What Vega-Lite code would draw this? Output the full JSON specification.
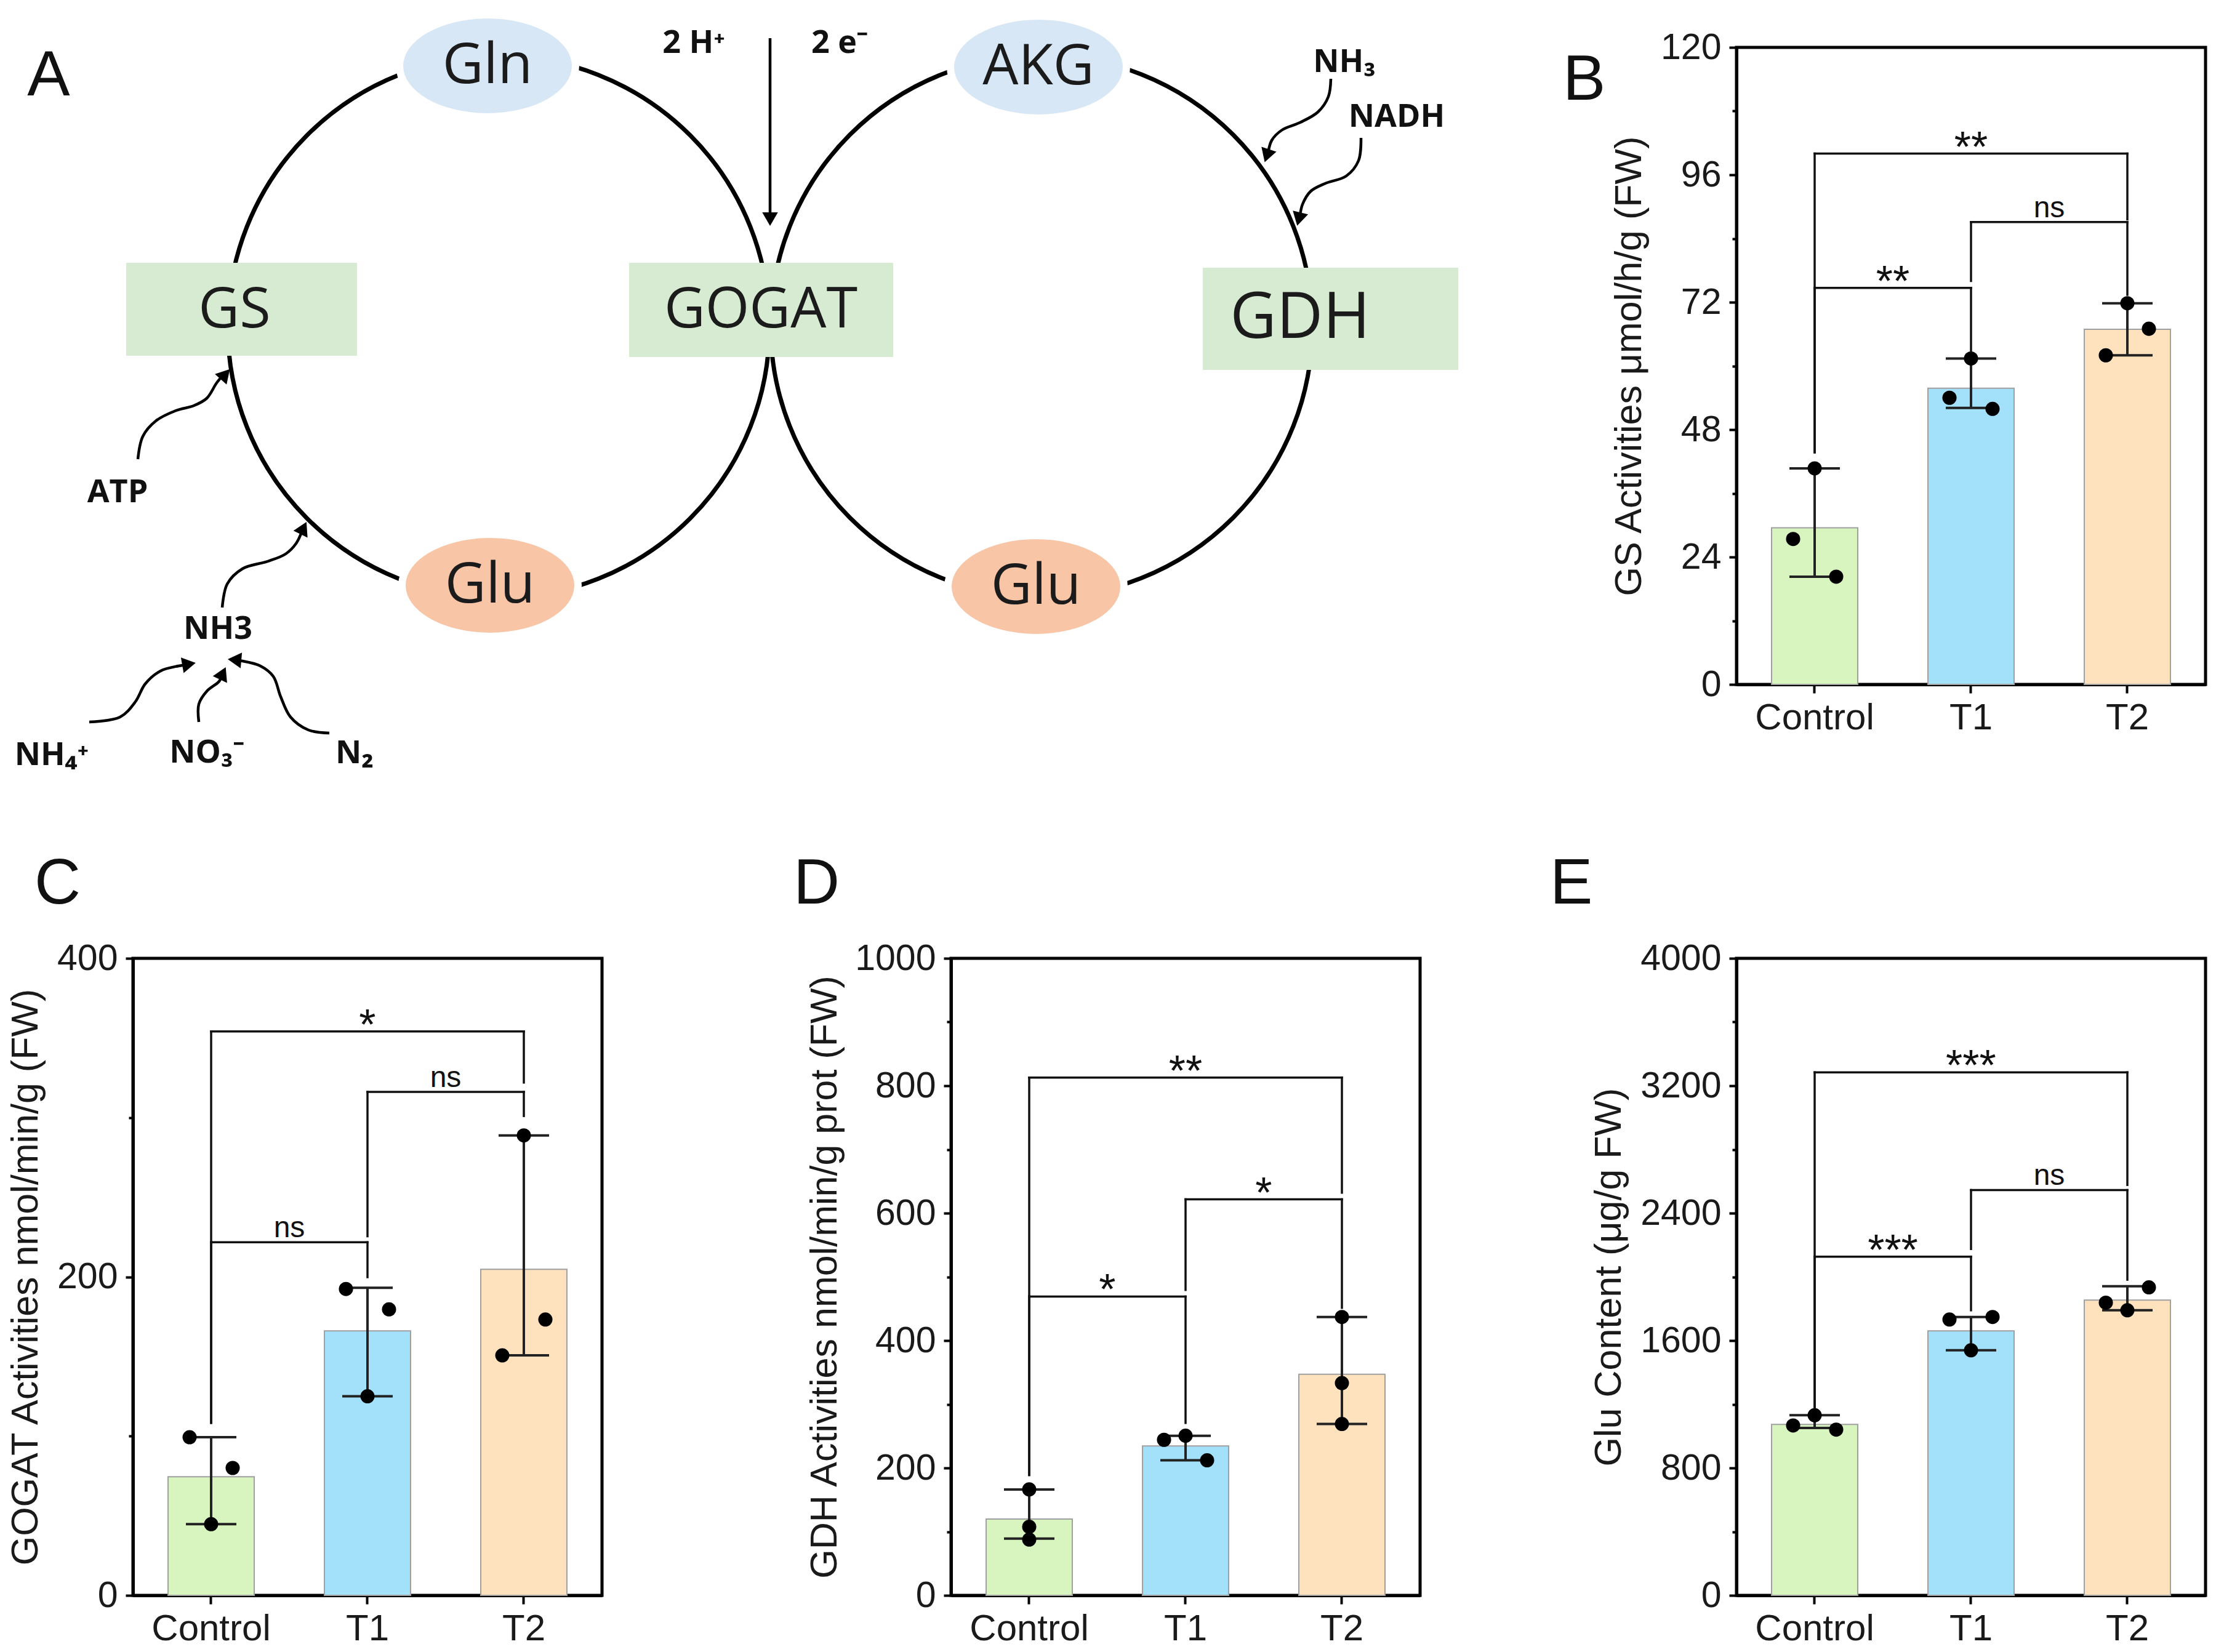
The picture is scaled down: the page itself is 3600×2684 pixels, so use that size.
{
  "$schema": "https://vega.github.io/schema/vega-lite/v6.json",
  "background": "white",
  "padding": {"left": 9, "top": 0, "right": 10, "bottom": 10},
  "datasets": {
    "bars": [
      {"panel": "B", "group": "Control", "mean": 29.5, "lo": 20.3, "hi": 40.7},
      {"panel": "B", "group": "T1", "mean": 55.8, "lo": 52.1, "hi": 61.4},
      {"panel": "B", "group": "T2", "mean": 66.9, "lo": 62.0, "hi": 71.8},
      {"panel": "C", "group": "Control", "mean": 74.5, "lo": 44.7, "hi": 99.3},
      {"panel": "C", "group": "T1", "mean": 166.1, "lo": 125.0, "hi": 193.1},
      {"panel": "C", "group": "T2", "mean": 204.7, "lo": 150.7, "hi": 288.8},
      {"panel": "D", "group": "Control", "mean": 119.7, "lo": 89.2, "hi": 166.3},
      {"panel": "D", "group": "T1", "mean": 234.5, "lo": 212.0, "hi": 250.6},
      {"panel": "D", "group": "T2", "mean": 347.0, "lo": 269.0, "hi": 437.0},
      {"panel": "E", "group": "Control", "mean": 1073, "lo": 1051, "hi": 1131},
      {"panel": "E", "group": "T1", "mean": 1661, "lo": 1539, "hi": 1748},
      {"panel": "E", "group": "T2", "mean": 1854, "lo": 1790, "hi": 1941}
    ],
    "pts": [
      {"panel": "B", "group": "Control", "pos": "C", "value": 40.7},
      {"panel": "B", "group": "Control", "pos": "L", "value": 27.4},
      {"panel": "B", "group": "Control", "pos": "R", "value": 20.3},
      {"panel": "B", "group": "T1", "pos": "C", "value": 61.4},
      {"panel": "B", "group": "T1", "pos": "L", "value": 54.0},
      {"panel": "B", "group": "T1", "pos": "R", "value": 51.9},
      {"panel": "B", "group": "T2", "pos": "C", "value": 71.8},
      {"panel": "B", "group": "T2", "pos": "R", "value": 67.0},
      {"panel": "B", "group": "T2", "pos": "L", "value": 62.0},
      {"panel": "C", "group": "Control", "pos": "L", "value": 99.3},
      {"panel": "C", "group": "Control", "pos": "R", "value": 80.0},
      {"panel": "C", "group": "Control", "pos": "C", "value": 44.7},
      {"panel": "C", "group": "T1", "pos": "L", "value": 192.4},
      {"panel": "C", "group": "T1", "pos": "R", "value": 179.6},
      {"panel": "C", "group": "T1", "pos": "C", "value": 125.0},
      {"panel": "C", "group": "T2", "pos": "C", "value": 288.8},
      {"panel": "C", "group": "T2", "pos": "R", "value": 173.2},
      {"panel": "C", "group": "T2", "pos": "L", "value": 150.7},
      {"panel": "D", "group": "Control", "pos": "C", "value": 166.3},
      {"panel": "D", "group": "Control", "pos": "C", "value": 107.6},
      {"panel": "D", "group": "Control", "pos": "C", "value": 87.6},
      {"panel": "D", "group": "T1", "pos": "L", "value": 244.2},
      {"panel": "D", "group": "T1", "pos": "C", "value": 250.6},
      {"panel": "D", "group": "T1", "pos": "R", "value": 212.0},
      {"panel": "D", "group": "T2", "pos": "C", "value": 437.0},
      {"panel": "D", "group": "T2", "pos": "C", "value": 333.3},
      {"panel": "D", "group": "T2", "pos": "C", "value": 269.0},
      {"panel": "E", "group": "Control", "pos": "C", "value": 1131},
      {"panel": "E", "group": "Control", "pos": "L", "value": 1067},
      {"panel": "E", "group": "Control", "pos": "R", "value": 1041},
      {"panel": "E", "group": "T1", "pos": "L", "value": 1732},
      {"panel": "E", "group": "T1", "pos": "R", "value": 1748},
      {"panel": "E", "group": "T1", "pos": "C", "value": 1539},
      {"panel": "E", "group": "T2", "pos": "R", "value": 1934},
      {"panel": "E", "group": "T2", "pos": "L", "value": 1838},
      {"panel": "E", "group": "T2", "pos": "C", "value": 1790}
    ],
    "brk": [
      {"panel": "B", "g1": "Control", "g2": "T2", "h": 100.0, "lo1": 43.7, "lo2": 87.6, "label": "**"},
      {"panel": "B", "g1": "T1", "g2": "T2", "h": 87.1, "lo1": 76.0, "lo2": 73.4, "label": "ns"},
      {"panel": "B", "g1": "Control", "g2": "T1", "h": 74.7, "lo1": 43.7, "lo2": 62.7, "label": "**"},
      {"panel": "C", "g1": "Control", "g2": "T2", "h": 354.1, "lo1": 108.3, "lo2": 322.0, "label": "*"},
      {"panel": "C", "g1": "T1", "g2": "T2", "h": 316.1, "lo1": 225.5, "lo2": 301.0, "label": "ns"},
      {"panel": "C", "g1": "Control", "g2": "T1", "h": 221.7, "lo1": 108.3, "lo2": 199.8, "label": "ns"},
      {"panel": "D", "g1": "Control", "g2": "T2", "h": 812.9, "lo1": 188.8, "lo2": 632.1, "label": "**"},
      {"panel": "D", "g1": "T1", "g2": "T2", "h": 621.7, "lo1": 479.5, "lo2": 451.4, "label": "*"},
      {"panel": "D", "g1": "Control", "g2": "T1", "h": 469.1, "lo1": 188.8, "lo2": 270.7, "label": "*"},
      {"panel": "E", "g1": "Control", "g2": "T2", "h": 3284, "lo1": 1179, "lo2": 2577, "label": "***"},
      {"panel": "E", "g1": "T1", "g2": "T2", "h": 2545, "lo1": 2175, "lo2": 1982, "label": "ns"},
      {"panel": "E", "g1": "Control", "g2": "T1", "h": 2127, "lo1": 1179, "lo2": 1790, "label": "***"}
    ],
    "rings": [{"x": 806, "y": 527}, {"x": 1688, "y": 526}],
    "enz": [
      {"name": "GS", "x": 201, "x2": 576, "y": 423, "y2": 574},
      {"name": "GOGAT", "x": 1018, "x2": 1447, "y": 423, "y2": 576},
      {"name": "GDH", "x": 1950, "x2": 2365, "y": 431, "y2": 597}
    ],
    "enzlab": [
      {"label": "GS", "x": 377, "y": 500},
      {"label": "GOGAT", "x": 1232, "y": 500},
      {"label": "GDH", "x": 2108, "y": 514}
    ],
    "metab": [
      {"name": "Gln", "x": 788, "y": 103},
      {"name": "AKG", "x": 1683, "y": 105},
      {"name": "Glu", "x": 792, "y": 947},
      {"name": "Glu", "x": 1679, "y": 949}
    ],
    "flux": [
      {"arrow": "v", "o": 1, "x": 1247, "y": 58},
      {"arrow": "v", "o": 2, "x": 1247, "y": 345},
      {"arrow": "atp", "o": 1, "x": 220, "y": 742},
      {"arrow": "atp", "o": 2, "x": 228, "y": 705},
      {"arrow": "atp", "o": 3, "x": 249, "y": 680},
      {"arrow": "atp", "o": 4, "x": 282, "y": 663},
      {"arrow": "atp", "o": 5, "x": 311, "y": 655},
      {"arrow": "atp", "o": 6, "x": 332, "y": 643},
      {"arrow": "atp", "o": 7, "x": 348, "y": 618},
      {"arrow": "atp", "o": 8, "x": 358, "y": 606},
      {"arrow": "nh3", "o": 1, "x": 357, "y": 983},
      {"arrow": "nh3", "o": 2, "x": 365, "y": 945},
      {"arrow": "nh3", "o": 3, "x": 390, "y": 920},
      {"arrow": "nh3", "o": 4, "x": 431, "y": 908},
      {"arrow": "nh3", "o": 5, "x": 460, "y": 896},
      {"arrow": "nh3", "o": 6, "x": 477, "y": 879},
      {"arrow": "nh3", "o": 7, "x": 487, "y": 858},
      {"arrow": "nh4", "o": 1, "x": 141, "y": 1169},
      {"arrow": "nh4", "o": 2, "x": 191, "y": 1161},
      {"arrow": "nh4", "o": 3, "x": 216, "y": 1136},
      {"arrow": "nh4", "o": 4, "x": 232, "y": 1107},
      {"arrow": "nh4", "o": 5, "x": 257, "y": 1086},
      {"arrow": "nh4", "o": 6, "x": 286, "y": 1078},
      {"arrow": "nh4", "o": 7, "x": 300, "y": 1076},
      {"arrow": "no3", "o": 1, "x": 319, "y": 1169},
      {"arrow": "no3", "o": 2, "x": 319, "y": 1140},
      {"arrow": "no3", "o": 3, "x": 332, "y": 1119},
      {"arrow": "no3", "o": 4, "x": 352, "y": 1103},
      {"arrow": "no3", "o": 5, "x": 357, "y": 1093},
      {"arrow": "n2", "o": 1, "x": 531, "y": 1187},
      {"arrow": "n2", "o": 2, "x": 497, "y": 1182},
      {"arrow": "n2", "o": 3, "x": 468, "y": 1161},
      {"arrow": "n2", "o": 4, "x": 452, "y": 1128},
      {"arrow": "n2", "o": 5, "x": 440, "y": 1095},
      {"arrow": "n2", "o": 6, "x": 419, "y": 1078},
      {"arrow": "n2", "o": 7, "x": 390, "y": 1070},
      {"arrow": "n2", "o": 8, "x": 380, "y": 1069},
      {"arrow": "nh3r", "o": 1, "x": 2158, "y": 124},
      {"arrow": "nh3r", "o": 2, "x": 2154, "y": 153},
      {"arrow": "nh3r", "o": 3, "x": 2137, "y": 178},
      {"arrow": "nh3r", "o": 4, "x": 2108, "y": 195},
      {"arrow": "nh3r", "o": 5, "x": 2079, "y": 207},
      {"arrow": "nh3r", "o": 6, "x": 2062, "y": 224},
      {"arrow": "nh3r", "o": 7, "x": 2056, "y": 245},
      {"arrow": "nadh", "o": 1, "x": 2207, "y": 220},
      {"arrow": "nadh", "o": 2, "x": 2203, "y": 257},
      {"arrow": "nadh", "o": 3, "x": 2183, "y": 282},
      {"arrow": "nadh", "o": 4, "x": 2149, "y": 294},
      {"arrow": "nadh", "o": 5, "x": 2125, "y": 307},
      {"arrow": "nadh", "o": 6, "x": 2112, "y": 328},
      {"arrow": "nadh", "o": 7, "x": 2108, "y": 346}
    ],
    "heads": [
      {"arrow": "v", "x": 1247, "y": 352, "ang": 180},
      {"arrow": "atp", "x": 362, "y": 604, "ang": 42},
      {"arrow": "nh3", "x": 489, "y": 854, "ang": 26},
      {"arrow": "nh4", "x": 303, "y": 1075, "ang": 80},
      {"arrow": "no3", "x": 358, "y": 1090, "ang": 25},
      {"arrow": "n2", "x": 377, "y": 1068, "ang": 275},
      {"arrow": "nh3r", "x": 2054, "y": 249, "ang": 198},
      {"arrow": "nadh", "x": 2106, "y": 352, "ang": 194}
    ],
    "alab": [
      {"label": "2 H⁺", "x": 1123, "y": 66},
      {"label": "2 e⁻", "x": 1360, "y": 66},
      {"label": "NH₃", "x": 2180, "y": 97},
      {"label": "NADH", "x": 2265, "y": 186},
      {"label": "ATP", "x": 187, "y": 796},
      {"label": "NH3", "x": 350, "y": 1018},
      {"label": "NH₄⁺", "x": 80, "y": 1223},
      {"label": "NO₃⁻", "x": 332, "y": 1219},
      {"label": "N₂", "x": 572, "y": 1220}
    ],
    "aletter": [{"label": "A", "x": 75, "y": 120}]
  },
  "vconcat": [
    {
      "hconcat": [
        {
          "width": 2600,
          "height": 1035,
          "view": {"stroke": null},
          "layer": [
            {
              "data": {"name": "rings"},
              "mark": {"type": "point", "shape": "circle", "size": 774400, "filled": false, "color": "#000", "strokeWidth": 7, "opacity": 1},
              "encoding": {
                "x": {"field": "x", "type": "quantitative", "scale": {"domain": [212, 2812], "nice": false, "zero": false}, "axis": null},
                "y": {"field": "y", "type": "quantitative", "scale": {"domain": [73, 1108], "nice": false, "zero": false, "reverse": true}, "axis": null}
              }
            },
            {
              "data": {"name": "metab"},
              "mark": {"type": "point", "shape": "M-1,0A1,0.58 0 1,1 1,0A1,0.58 0 1,1 -1,0Z", "size": 81796, "filled": true, "opacity": 1, "stroke": "white", "strokeWidth": 12},
              "encoding": {
                "x": {"field": "x", "type": "quantitative", "axis": null},
                "y": {"field": "y", "type": "quantitative", "axis": null},
                "fill": {"field": "name", "type": "nominal", "scale": {"domain": ["Gln", "AKG", "Glu"], "range": ["#d7e7f6", "#d7e7f6", "#f8c5a6"]}, "legend": null}
              }
            },
            {
              "data": {"name": "enz"},
              "mark": {"type": "rect", "color": "#d6ebd1"},
              "encoding": {
                "x": {"field": "x", "type": "quantitative", "axis": null},
                "x2": {"field": "x2"},
                "y": {"field": "y", "type": "quantitative", "axis": null},
                "y2": {"field": "y2"}
              }
            },
            {
              "data": {"name": "flux"},
              "mark": {"type": "line", "interpolate": "catmull-rom", "color": "#000", "strokeWidth": 4.5},
              "encoding": {
                "x": {"field": "x", "type": "quantitative", "axis": null},
                "y": {"field": "y", "type": "quantitative", "axis": null},
                "detail": {"field": "arrow", "type": "nominal"},
                "order": {"field": "o", "type": "quantitative"}
              }
            },
            {
              "data": {"name": "heads"},
              "mark": {"type": "point", "shape": "triangle-up", "filled": true, "color": "#000", "size": 650, "opacity": 1},
              "encoding": {
                "x": {"field": "x", "type": "quantitative", "axis": null},
                "y": {"field": "y", "type": "quantitative", "axis": null},
                "angle": {"field": "ang", "type": "quantitative", "scale": null}
              }
            },
            {
              "data": {"name": "metab"},
              "mark": {"type": "text", "font": "Open Sans", "fontSize": 92, "color": "#1b1b1b", "baseline": "middle", "align": "center"},
              "encoding": {
                "x": {"field": "x", "type": "quantitative", "axis": null},
                "y": {"field": "y", "type": "quantitative", "axis": null},
                "text": {"field": "name"}
              }
            },
            {
              "data": {"name": "enzlab"},
              "transform": [{"filter": "datum.label !== 'GDH'"}],
              "mark": {"type": "text", "font": "Open Sans", "fontSize": 92, "color": "#1b1b1b", "baseline": "middle", "align": "center"},
              "encoding": {
                "x": {"field": "x", "type": "quantitative", "axis": null},
                "y": {"field": "y", "type": "quantitative", "axis": null},
                "text": {"field": "label"}
              }
            },
            {
              "data": {"name": "enzlab"},
              "transform": [{"filter": "datum.label === 'GDH'"}],
              "mark": {"type": "text", "font": "Open Sans", "fontSize": 104, "color": "#1b1b1b", "baseline": "middle", "align": "center"},
              "encoding": {
                "x": {"field": "x", "type": "quantitative", "axis": null},
                "y": {"field": "y", "type": "quantitative", "axis": null},
                "text": {"field": "label"}
              }
            },
            {
              "data": {"name": "alab"},
              "mark": {"type": "text", "font": "Open Sans", "fontSize": 52, "fontWeight": "bold", "color": "#111", "baseline": "middle", "align": "center"},
              "encoding": {
                "x": {"field": "x", "type": "quantitative", "axis": null},
                "y": {"field": "y", "type": "quantitative", "axis": null},
                "text": {"field": "label"}
              }
            },
            {
              "data": {"name": "aletter"},
              "mark": {"type": "text", "font": "Liberation Sans", "fontSize": 104, "color": "#111", "baseline": "middle", "align": "center"},
              "encoding": {
                "x": {"field": "x", "type": "quantitative", "axis": null},
                "y": {"field": "y", "type": "quantitative", "axis": null},
                "text": {"field": "label"}
              }
            }
          ]
        },
        {
          "width": 762,
          "height": 1035,
          "title": {"text": "B", "dx": -282, "dy": 140},
          "resolve": {"scale": {"xOffset": "independent"}},
          "layer": [
            {
              "data": {"name": "bars"}, "transform": [{"filter": "datum.panel === 'B'"}],
              "mark": {"type": "bar", "stroke": "#a0a0a0", "strokeWidth": 2},
              "encoding": {
                "x": {"field": "group", "type": "nominal", "scale": {"domain": ["Control", "T1", "T2"], "paddingInner": 0.449, "paddingOuter": 0.2245}, "axis": {"title": null, "labelAngle": 0}},
                "y": {"field": "mean", "type": "quantitative", "scale": {"domain": [0, 120], "nice": false}, "axis": {"title": "GS Activities μmol/h/g (FW)", "titlePadding": 19, "values": [0, 12, 24, 36, 48, 60, 72, 84, 96, 108, 120], "labelExpr": "datum.value % 24 === 0 ? datum.label : ''", "tickSize": {"condition": {"test": "datum.value % 24 === 0", "value": 12}, "value": 7}}},
                "color": {"field": "group", "type": "nominal", "scale": {"domain": ["Control", "T1", "T2"], "range": ["#d8f5c0", "#a3e1fb", "#fde2bd"]}, "legend": null}
              }
            },
            {
              "data": {"name": "bars"}, "transform": [{"filter": "datum.panel === 'B'"}],
              "mark": {"type": "rule", "color": "#222", "strokeWidth": 4},
              "encoding": {"x": {"field": "group", "type": "nominal"}, "y": {"field": "lo", "type": "quantitative"}, "y2": {"field": "hi"}}
            },
            {
              "data": {"name": "bars"}, "transform": [{"filter": "datum.panel === 'B'"}],
              "mark": {"type": "tick", "orient": "horizontal", "size": 82, "thickness": 4, "color": "#222", "opacity": 1},
              "encoding": {"x": {"field": "group", "type": "nominal"}, "y": {"field": "lo", "type": "quantitative"}}
            },
            {
              "data": {"name": "bars"}, "transform": [{"filter": "datum.panel === 'B'"}],
              "mark": {"type": "tick", "orient": "horizontal", "size": 82, "thickness": 4, "color": "#222", "opacity": 1},
              "encoding": {"x": {"field": "group", "type": "nominal"}, "y": {"field": "hi", "type": "quantitative"}}
            },
            {
              "data": {"name": "pts"}, "transform": [{"filter": "datum.panel === 'B'"}],
              "mark": {"type": "circle", "size": 530, "color": "#000", "opacity": 1},
              "encoding": {"x": {"field": "group", "type": "nominal"}, "xOffset": {"field": "pos", "type": "nominal", "scale": {"domain": ["L", "C", "R"], "paddingInner": 0, "paddingOuter": 1.1}}, "y": {"field": "value", "type": "quantitative"}}
            },
            {
              "data": {"name": "brk"}, "transform": [{"filter": "datum.panel === 'B'"}],
              "mark": {"type": "rule", "color": "#111", "strokeWidth": 3.5, "strokeCap": "square"},
              "encoding": {"x": {"field": "g1", "type": "nominal"}, "x2": {"field": "g2"}, "y": {"field": "h", "type": "quantitative"}}
            },
            {
              "data": {"name": "brk"}, "transform": [{"filter": "datum.panel === 'B'"}],
              "mark": {"type": "rule", "color": "#111", "strokeWidth": 3.5, "strokeCap": "square"},
              "encoding": {"x": {"field": "g1", "type": "nominal"}, "y": {"field": "lo1", "type": "quantitative"}, "y2": {"field": "h"}}
            },
            {
              "data": {"name": "brk"}, "transform": [{"filter": "datum.panel === 'B'"}],
              "mark": {"type": "rule", "color": "#111", "strokeWidth": 3.5, "strokeCap": "square"},
              "encoding": {"x": {"field": "g2", "type": "nominal"}, "y": {"field": "lo2", "type": "quantitative"}, "y2": {"field": "h"}}
            },
            {
              "data": {"name": "brk"}, "transform": [{"filter": "datum.panel === 'B' && datum.g1 === 'Control' && datum.g2 === 'T2'"}],
              "mark": {"type": "text", "fontSize": 70, "baseline": "alphabetic", "dy": 13, "color": "#111"},
              "encoding": {"x": {"field": "g1", "type": "nominal", "bandPosition": 2.314}, "y": {"field": "h", "type": "quantitative"}, "text": {"field": "label"}}
            },
            {
              "data": {"name": "brk"}, "transform": [{"filter": "datum.panel === 'B' && !(datum.g1 === 'Control' && datum.g2 === 'T2') && datum.label !== 'ns'"}],
              "mark": {"type": "text", "fontSize": 70, "baseline": "alphabetic", "dy": 13, "color": "#111"},
              "encoding": {"x": {"field": "g1", "type": "nominal", "bandPosition": 1.4074}, "y": {"field": "h", "type": "quantitative"}, "text": {"field": "label"}}
            },
            {
              "data": {"name": "brk"}, "transform": [{"filter": "datum.panel === 'B' && datum.label === 'ns'"}],
              "mark": {"type": "text", "fontSize": 48, "baseline": "alphabetic", "dy": -8, "color": "#111"},
              "encoding": {"x": {"field": "g1", "type": "nominal", "bandPosition": 1.4074}, "y": {"field": "h", "type": "quantitative"}, "text": {"field": "label"}}
            }
          ]
        }
      ],
      "spacing": 5,
      "bounds": "flush"
    },
    {
      "hconcat": [
        {
          "width": 762,
          "height": 1035,
          "title": {"text": "C", "dx": -160, "dy": -34},
          "resolve": {"scale": {"xOffset": "independent"}},
          "layer": [
            {
              "data": {"name": "bars"}, "transform": [{"filter": "datum.panel === 'C'"}],
              "mark": {"type": "bar", "stroke": "#a0a0a0", "strokeWidth": 2},
              "encoding": {
                "x": {"field": "group", "type": "nominal", "scale": {"domain": ["Control", "T1", "T2"], "paddingInner": 0.449, "paddingOuter": 0.2245}, "axis": {"title": null, "labelAngle": 0}},
                "y": {"field": "mean", "type": "quantitative", "scale": {"domain": [0, 400], "nice": false}, "axis": {"title": "GOGAT Activities nmol/min/g (FW)", "titlePadding": 19, "values": [0, 100, 200, 300, 400], "labelExpr": "datum.value % 200 === 0 ? datum.label : ''", "tickSize": {"condition": {"test": "datum.value % 200 === 0", "value": 12}, "value": 7}}},
                "color": {"field": "group", "type": "nominal", "scale": {"domain": ["Control", "T1", "T2"], "range": ["#d8f5c0", "#a3e1fb", "#fde2bd"]}, "legend": null}
              }
            },
            {
              "data": {"name": "bars"}, "transform": [{"filter": "datum.panel === 'C'"}],
              "mark": {"type": "rule", "color": "#222", "strokeWidth": 4},
              "encoding": {"x": {"field": "group", "type": "nominal"}, "y": {"field": "lo", "type": "quantitative"}, "y2": {"field": "hi"}}
            },
            {
              "data": {"name": "bars"}, "transform": [{"filter": "datum.panel === 'C'"}],
              "mark": {"type": "tick", "orient": "horizontal", "size": 82, "thickness": 4, "color": "#222", "opacity": 1},
              "encoding": {"x": {"field": "group", "type": "nominal"}, "y": {"field": "lo", "type": "quantitative"}}
            },
            {
              "data": {"name": "bars"}, "transform": [{"filter": "datum.panel === 'C'"}],
              "mark": {"type": "tick", "orient": "horizontal", "size": 82, "thickness": 4, "color": "#222", "opacity": 1},
              "encoding": {"x": {"field": "group", "type": "nominal"}, "y": {"field": "hi", "type": "quantitative"}}
            },
            {
              "data": {"name": "pts"}, "transform": [{"filter": "datum.panel === 'C'"}],
              "mark": {"type": "circle", "size": 530, "color": "#000", "opacity": 1},
              "encoding": {"x": {"field": "group", "type": "nominal"}, "xOffset": {"field": "pos", "type": "nominal", "scale": {"domain": ["L", "C", "R"], "paddingInner": 0, "paddingOuter": 1.1}}, "y": {"field": "value", "type": "quantitative"}}
            },
            {
              "data": {"name": "brk"}, "transform": [{"filter": "datum.panel === 'C'"}],
              "mark": {"type": "rule", "color": "#111", "strokeWidth": 3.5, "strokeCap": "square"},
              "encoding": {"x": {"field": "g1", "type": "nominal"}, "x2": {"field": "g2"}, "y": {"field": "h", "type": "quantitative"}}
            },
            {
              "data": {"name": "brk"}, "transform": [{"filter": "datum.panel === 'C'"}],
              "mark": {"type": "rule", "color": "#111", "strokeWidth": 3.5, "strokeCap": "square"},
              "encoding": {"x": {"field": "g1", "type": "nominal"}, "y": {"field": "lo1", "type": "quantitative"}, "y2": {"field": "h"}}
            },
            {
              "data": {"name": "brk"}, "transform": [{"filter": "datum.panel === 'C'"}],
              "mark": {"type": "rule", "color": "#111", "strokeWidth": 3.5, "strokeCap": "square"},
              "encoding": {"x": {"field": "g2", "type": "nominal"}, "y": {"field": "lo2", "type": "quantitative"}, "y2": {"field": "h"}}
            },
            {
              "data": {"name": "brk"}, "transform": [{"filter": "datum.panel === 'C' && datum.g1 === 'Control' && datum.g2 === 'T2'"}],
              "mark": {"type": "text", "fontSize": 70, "baseline": "alphabetic", "dy": 13, "color": "#111"},
              "encoding": {"x": {"field": "g1", "type": "nominal", "bandPosition": 2.314}, "y": {"field": "h", "type": "quantitative"}, "text": {"field": "label"}}
            },
            {
              "data": {"name": "brk"}, "transform": [{"filter": "datum.panel === 'C' && !(datum.g1 === 'Control' && datum.g2 === 'T2') && datum.label !== 'ns'"}],
              "mark": {"type": "text", "fontSize": 70, "baseline": "alphabetic", "dy": 13, "color": "#111"},
              "encoding": {"x": {"field": "g1", "type": "nominal", "bandPosition": 1.4074}, "y": {"field": "h", "type": "quantitative"}, "text": {"field": "label"}}
            },
            {
              "data": {"name": "brk"}, "transform": [{"filter": "datum.panel === 'C' && datum.label === 'ns'"}],
              "mark": {"type": "text", "fontSize": 48, "baseline": "alphabetic", "dy": -8, "color": "#111"},
              "encoding": {"x": {"field": "g1", "type": "nominal", "bandPosition": 1.4074}, "y": {"field": "h", "type": "quantitative"}, "text": {"field": "label"}}
            }
          ]
        },
        {
          "hconcat": [
            {
              "width": 762,
              "height": 1035,
              "title": {"text": "D", "dx": -256, "dy": -34},
              "resolve": {"scale": {"xOffset": "independent"}},
              "layer": [
                {
                  "data": {"name": "bars"}, "transform": [{"filter": "datum.panel === 'D'"}],
                  "mark": {"type": "bar", "stroke": "#a0a0a0", "strokeWidth": 2},
                  "encoding": {
                    "x": {"field": "group", "type": "nominal", "scale": {"domain": ["Control", "T1", "T2"], "paddingInner": 0.449, "paddingOuter": 0.2245}, "axis": {"title": null, "labelAngle": 0}},
                    "y": {"field": "mean", "type": "quantitative", "scale": {"domain": [0, 1000], "nice": false}, "axis": {"title": "GDH Activities nmol/min/g prot (FW)", "titlePadding": 17, "format": "d", "values": [0, 100, 200, 300, 400, 500, 600, 700, 800, 900, 1000], "labelExpr": "datum.value % 200 === 0 ? datum.label : ''", "tickSize": {"condition": {"test": "datum.value % 200 === 0", "value": 12}, "value": 7}}},
                    "color": {"field": "group", "type": "nominal", "scale": {"domain": ["Control", "T1", "T2"], "range": ["#d8f5c0", "#a3e1fb", "#fde2bd"]}, "legend": null}
                  }
                },
                {
                  "data": {"name": "bars"}, "transform": [{"filter": "datum.panel === 'D'"}],
                  "mark": {"type": "rule", "color": "#222", "strokeWidth": 4},
                  "encoding": {"x": {"field": "group", "type": "nominal"}, "y": {"field": "lo", "type": "quantitative"}, "y2": {"field": "hi"}}
                },
                {
                  "data": {"name": "bars"}, "transform": [{"filter": "datum.panel === 'D'"}],
                  "mark": {"type": "tick", "orient": "horizontal", "size": 82, "thickness": 4, "color": "#222", "opacity": 1},
                  "encoding": {"x": {"field": "group", "type": "nominal"}, "y": {"field": "lo", "type": "quantitative"}}
                },
                {
                  "data": {"name": "bars"}, "transform": [{"filter": "datum.panel === 'D'"}],
                  "mark": {"type": "tick", "orient": "horizontal", "size": 82, "thickness": 4, "color": "#222", "opacity": 1},
                  "encoding": {"x": {"field": "group", "type": "nominal"}, "y": {"field": "hi", "type": "quantitative"}}
                },
                {
                  "data": {"name": "pts"}, "transform": [{"filter": "datum.panel === 'D'"}],
                  "mark": {"type": "circle", "size": 530, "color": "#000", "opacity": 1},
                  "encoding": {"x": {"field": "group", "type": "nominal"}, "xOffset": {"field": "pos", "type": "nominal", "scale": {"domain": ["L", "C", "R"], "paddingInner": 0, "paddingOuter": 1.1}}, "y": {"field": "value", "type": "quantitative"}}
                },
                {
                  "data": {"name": "brk"}, "transform": [{"filter": "datum.panel === 'D'"}],
                  "mark": {"type": "rule", "color": "#111", "strokeWidth": 3.5, "strokeCap": "square"},
                  "encoding": {"x": {"field": "g1", "type": "nominal"}, "x2": {"field": "g2"}, "y": {"field": "h", "type": "quantitative"}}
                },
                {
                  "data": {"name": "brk"}, "transform": [{"filter": "datum.panel === 'D'"}],
                  "mark": {"type": "rule", "color": "#111", "strokeWidth": 3.5, "strokeCap": "square"},
                  "encoding": {"x": {"field": "g1", "type": "nominal"}, "y": {"field": "lo1", "type": "quantitative"}, "y2": {"field": "h"}}
                },
                {
                  "data": {"name": "brk"}, "transform": [{"filter": "datum.panel === 'D'"}],
                  "mark": {"type": "rule", "color": "#111", "strokeWidth": 3.5, "strokeCap": "square"},
                  "encoding": {"x": {"field": "g2", "type": "nominal"}, "y": {"field": "lo2", "type": "quantitative"}, "y2": {"field": "h"}}
                },
                {
                  "data": {"name": "brk"}, "transform": [{"filter": "datum.panel === 'D' && datum.g1 === 'Control' && datum.g2 === 'T2'"}],
                  "mark": {"type": "text", "fontSize": 70, "baseline": "alphabetic", "dy": 13, "color": "#111"},
                  "encoding": {"x": {"field": "g1", "type": "nominal", "bandPosition": 2.314}, "y": {"field": "h", "type": "quantitative"}, "text": {"field": "label"}}
                },
                {
                  "data": {"name": "brk"}, "transform": [{"filter": "datum.panel === 'D' && !(datum.g1 === 'Control' && datum.g2 === 'T2') && datum.label !== 'ns'"}],
                  "mark": {"type": "text", "fontSize": 70, "baseline": "alphabetic", "dy": 13, "color": "#111"},
                  "encoding": {"x": {"field": "g1", "type": "nominal", "bandPosition": 1.4074}, "y": {"field": "h", "type": "quantitative"}, "text": {"field": "label"}}
                },
                {
                  "data": {"name": "brk"}, "transform": [{"filter": "datum.panel === 'D' && datum.label === 'ns'"}],
                  "mark": {"type": "text", "fontSize": 48, "baseline": "alphabetic", "dy": -8, "color": "#111"},
                  "encoding": {"x": {"field": "g1", "type": "nominal", "bandPosition": 1.4074}, "y": {"field": "h", "type": "quantitative"}, "text": {"field": "label"}}
                }
              ]
            },
            {
              "width": 762,
              "height": 1035,
              "title": {"text": "E", "dx": -303, "dy": -34},
              "resolve": {"scale": {"xOffset": "independent"}},
              "layer": [
                {
                  "data": {"name": "bars"}, "transform": [{"filter": "datum.panel === 'E'"}],
                  "mark": {"type": "bar", "stroke": "#a0a0a0", "strokeWidth": 2},
                  "encoding": {
                    "x": {"field": "group", "type": "nominal", "scale": {"domain": ["Control", "T1", "T2"], "paddingInner": 0.449, "paddingOuter": 0.2245}, "axis": {"title": null, "labelAngle": 0}},
                    "y": {"field": "mean", "type": "quantitative", "scale": {"domain": [0, 4000], "nice": false}, "axis": {"title": "Glu Content (μg/g FW)", "titlePadding": 19, "values": [0, 400, 800, 1200, 1600, 2000, 2400, 2800, 3200, 3600, 4000], "labelExpr": "datum.value % 800 === 0 ? datum.label : ''", "format": "d", "tickSize": {"condition": {"test": "datum.value % 800 === 0", "value": 12}, "value": 7}}},
                    "color": {"field": "group", "type": "nominal", "scale": {"domain": ["Control", "T1", "T2"], "range": ["#d8f5c0", "#a3e1fb", "#fde2bd"]}, "legend": null}
                  }
                },
                {
                  "data": {"name": "bars"}, "transform": [{"filter": "datum.panel === 'E'"}],
                  "mark": {"type": "rule", "color": "#222", "strokeWidth": 4},
                  "encoding": {"x": {"field": "group", "type": "nominal"}, "y": {"field": "lo", "type": "quantitative"}, "y2": {"field": "hi"}}
                },
                {
                  "data": {"name": "bars"}, "transform": [{"filter": "datum.panel === 'E'"}],
                  "mark": {"type": "tick", "orient": "horizontal", "size": 82, "thickness": 4, "color": "#222", "opacity": 1},
                  "encoding": {"x": {"field": "group", "type": "nominal"}, "y": {"field": "lo", "type": "quantitative"}}
                },
                {
                  "data": {"name": "bars"}, "transform": [{"filter": "datum.panel === 'E'"}],
                  "mark": {"type": "tick", "orient": "horizontal", "size": 82, "thickness": 4, "color": "#222", "opacity": 1},
                  "encoding": {"x": {"field": "group", "type": "nominal"}, "y": {"field": "hi", "type": "quantitative"}}
                },
                {
                  "data": {"name": "pts"}, "transform": [{"filter": "datum.panel === 'E'"}],
                  "mark": {"type": "circle", "size": 530, "color": "#000", "opacity": 1},
                  "encoding": {"x": {"field": "group", "type": "nominal"}, "xOffset": {"field": "pos", "type": "nominal", "scale": {"domain": ["L", "C", "R"], "paddingInner": 0, "paddingOuter": 1.1}}, "y": {"field": "value", "type": "quantitative"}}
                },
                {
                  "data": {"name": "brk"}, "transform": [{"filter": "datum.panel === 'E'"}],
                  "mark": {"type": "rule", "color": "#111", "strokeWidth": 3.5, "strokeCap": "square"},
                  "encoding": {"x": {"field": "g1", "type": "nominal"}, "x2": {"field": "g2"}, "y": {"field": "h", "type": "quantitative"}}
                },
                {
                  "data": {"name": "brk"}, "transform": [{"filter": "datum.panel === 'E'"}],
                  "mark": {"type": "rule", "color": "#111", "strokeWidth": 3.5, "strokeCap": "square"},
                  "encoding": {"x": {"field": "g1", "type": "nominal"}, "y": {"field": "lo1", "type": "quantitative"}, "y2": {"field": "h"}}
                },
                {
                  "data": {"name": "brk"}, "transform": [{"filter": "datum.panel === 'E'"}],
                  "mark": {"type": "rule", "color": "#111", "strokeWidth": 3.5, "strokeCap": "square"},
                  "encoding": {"x": {"field": "g2", "type": "nominal"}, "y": {"field": "lo2", "type": "quantitative"}, "y2": {"field": "h"}}
                },
                {
                  "data": {"name": "brk"}, "transform": [{"filter": "datum.panel === 'E' && datum.g1 === 'Control' && datum.g2 === 'T2'"}],
                  "mark": {"type": "text", "fontSize": 70, "baseline": "alphabetic", "dy": 13, "color": "#111"},
                  "encoding": {"x": {"field": "g1", "type": "nominal", "bandPosition": 2.314}, "y": {"field": "h", "type": "quantitative"}, "text": {"field": "label"}}
                },
                {
                  "data": {"name": "brk"}, "transform": [{"filter": "datum.panel === 'E' && !(datum.g1 === 'Control' && datum.g2 === 'T2') && datum.label !== 'ns'"}],
                  "mark": {"type": "text", "fontSize": 70, "baseline": "alphabetic", "dy": 13, "color": "#111"},
                  "encoding": {"x": {"field": "g1", "type": "nominal", "bandPosition": 1.4074}, "y": {"field": "h", "type": "quantitative"}, "text": {"field": "label"}}
                },
                {
                  "data": {"name": "brk"}, "transform": [{"filter": "datum.panel === 'E' && datum.label === 'ns'"}],
                  "mark": {"type": "text", "fontSize": 48, "baseline": "alphabetic", "dy": -8, "color": "#111"},
                  "encoding": {"x": {"field": "g1", "type": "nominal", "bandPosition": 1.4074}, "y": {"field": "h", "type": "quantitative"}, "text": {"field": "label"}}
                }
              ]
            }
          ],
          "spacing": 514,
          "bounds": "flush"
        }
      ],
      "spacing": 567,
      "bounds": "flush"
    }
  ],
  "spacing": 129,
  "config": {
    "font": "Liberation Sans",
    "view": {"stroke": "#000", "strokeWidth": 5},
    "axis": {
      "labelFont": "Liberation Sans", "labelFontSize": 59, "labelColor": "#1a1a1a", "labelLimit": 0,
      "titleFont": "Liberation Sans", "titleFontSize": 61, "titleFontWeight": "normal", "titleColor": "#1a1a1a",
      "domainColor": "#000", "domainWidth": 5, "tickColor": "#000", "tickWidth": 4,
      "grid": false, "zindex": 1, "labelOverlap": false
    },
    "axisY": {"labelPadding": 13, "tickSize": 12},
    "axisX": {"labelAngle": 0, "tickSize": 14, "labelPadding": 11, "labelFontSize": 60},
    "title": {"font": "Liberation Sans", "fontSize": 104, "fontWeight": "normal", "color": "#111", "anchor": "start", "frame": "group", "offset": 0, "baseline": "alphabetic"},
    "text": {"font": "Liberation Sans"}
  }
}
